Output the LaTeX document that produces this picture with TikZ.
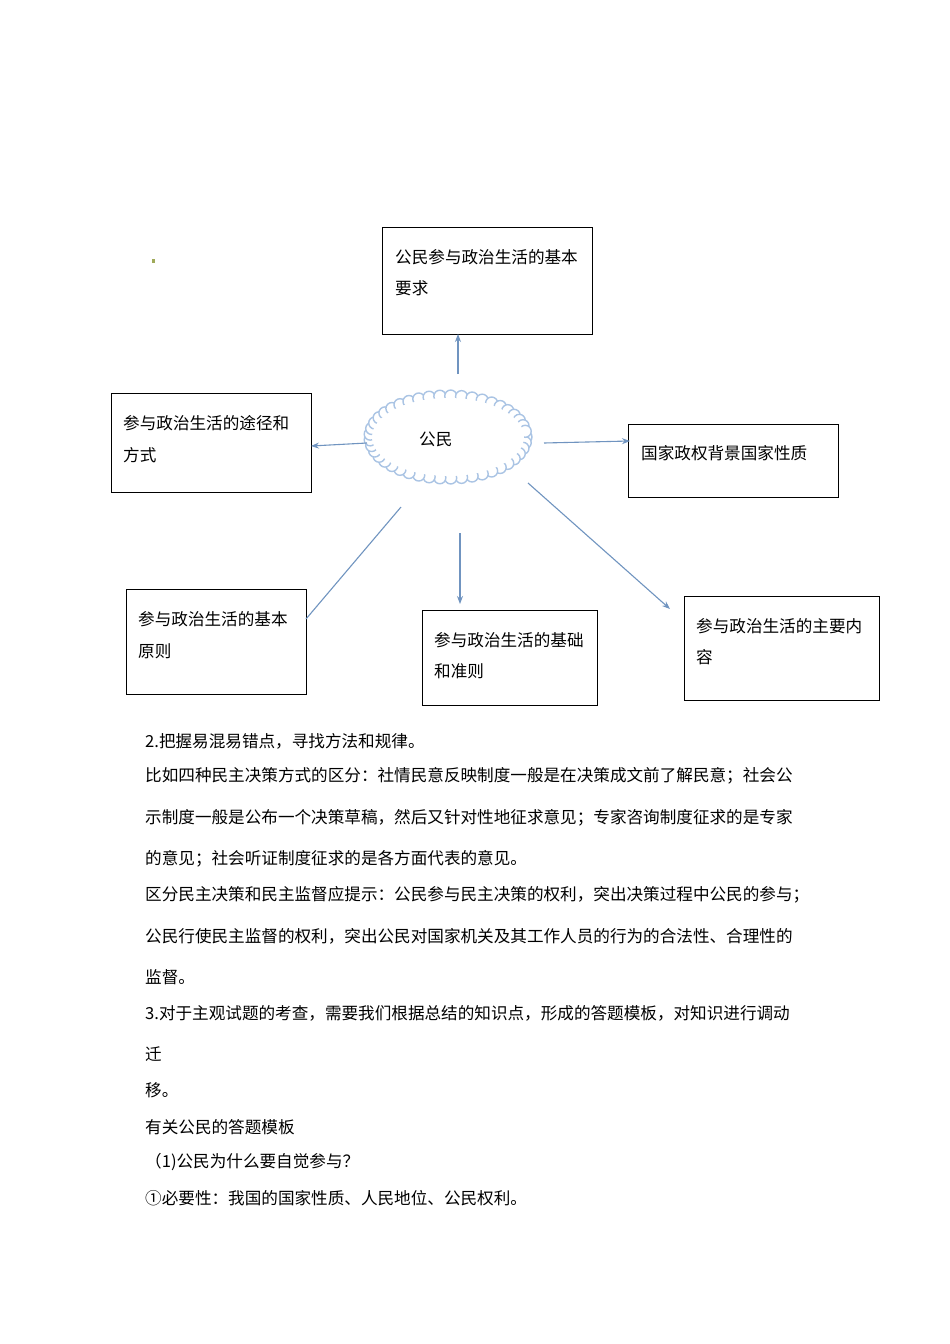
\documentclass[tikz,border=0pt]{standalone}
\usepackage{fontspec}
\setmainfont{Noto Sans CJK SC}
\usetikzlibrary{arrows.meta}
\definecolor{arrowblue}{RGB}{112,148,192}
\definecolor{scallop}{RGB}{170,196,228}
\definecolor{dotgreen}{RGB}{160,170,90}
\begin{document}
\begin{tikzpicture}[x=1pt,y=-1pt,
  box/.style={draw=black,line width=0.8pt},
  txt/.style={anchor=west,inner sep=0pt,font=\fontsize{16.6}{16}\selectfont},
  conn/.style={draw=arrowblue,line width=1.1pt,-{Stealth[length=8pt,width=6pt]}},
  connplain/.style={draw=arrowblue,line width=1.1pt}]
\useasboundingbox (0,0) rectangle (950,1344);
\fill[white] (0,0) rectangle (950,1344);
% boxes
\draw[box] (382,227) rectangle (592,334); \node[coordinate] (top) at (458,334) {};
\node[txt] at (395,257) {公民参与政治生活的基本};
\node[txt] at (395,288) {要求};
\draw[box] (111,393) rectangle (311,492); \node[coordinate] (left) at (311,446) {};
\node[txt] at (123,423) {参与政治生活的途径和};
\node[txt] at (123,455) {方式};
\draw[box] (628,424) rectangle (838,497); \node[coordinate] (right) at (630,441) {};
\node[txt] at (641,453) {国家政权背景国家性质};
\draw[box] (126,589) rectangle (306,694); \node[coordinate] (bl) at (306,619) {};
\node[txt] at (138,619) {参与政治生活的基本};
\node[txt] at (138,651) {原则};
\draw[box] (422,610) rectangle (597,705); \node[coordinate] (bm) at (460,604) {};
\node[txt] at (434,640) {参与政治生活的基础};
\node[txt] at (434,671) {和准则};
\draw[box] (684,596) rectangle (879,700); \node[coordinate] (br) at (670,609) {};
\node[txt] at (696,626) {参与政治生活的主要内};
\node[txt] at (696,657) {容};
% scalloped ellipse
\foreach \a in {0,8,...,352}
  \draw[draw=scallop,fill=white,line width=1.4pt] ({448+78*cos(\a)},{437+41*sin(\a)}) circle (6);
\fill[white] (448,437) ellipse (76 and 39);
\node[txt] (c) at (419,439) {公民};
% connectors
\node[coordinate] (s1) at (458,374) {};
\node[coordinate] (s2) at (367,443) {};
\node[coordinate] (s3) at (544,443) {};
\node[coordinate] (s4) at (401,507) {};
\node[coordinate] (s5) at (460,533) {};
\node[coordinate] (s6) at (528,483) {};
\draw[conn] (s1) -- (top);
\draw[conn] (s2) -- (left);
\draw[conn] (s3) -- (right);
\draw[connplain] (s4) -- (bl);
\draw[conn] (s5) -- (bm);
\draw[conn] (s6) -- (br);
\fill[dotgreen] (152,259) rectangle (155,263);
% text
\foreach \y/\t in {
741/{2.把握易混易错点，寻找方法和规律。},
776/{比如四种民主决策方式的区分：社情民意反映制度一般是在决策成文前了解民意；社会公},
818/{示制度一般是公布一个决策草稿，然后又针对性地征求意见；专家咨询制度征求的是专家},
859/{的意见；社会听证制度征求的是各方面代表的意见。},
895/{区分民主决策和民主监督应提示：公民参与民主决策的权利，突出决策过程中公民的参与；},
936/{公民行使民主监督的权利，突出公民对国家机关及其工作人员的行为的合法性、合理性的},
977/{监督。},
1013/{3.对于主观试题的考查，需要我们根据总结的知识点，形成的答题模板，对知识进行调动},
1054/{迁},
1090/{移。},
1127/{有关公民的答题模板},
1162/{（1)公民为什么要自觉参与？},
1198/{①必要性：我国的国家性质、人民地位、公民权利。}}
  \node[txt] at (145,\y) {\t};
\end{tikzpicture}
\end{document}
